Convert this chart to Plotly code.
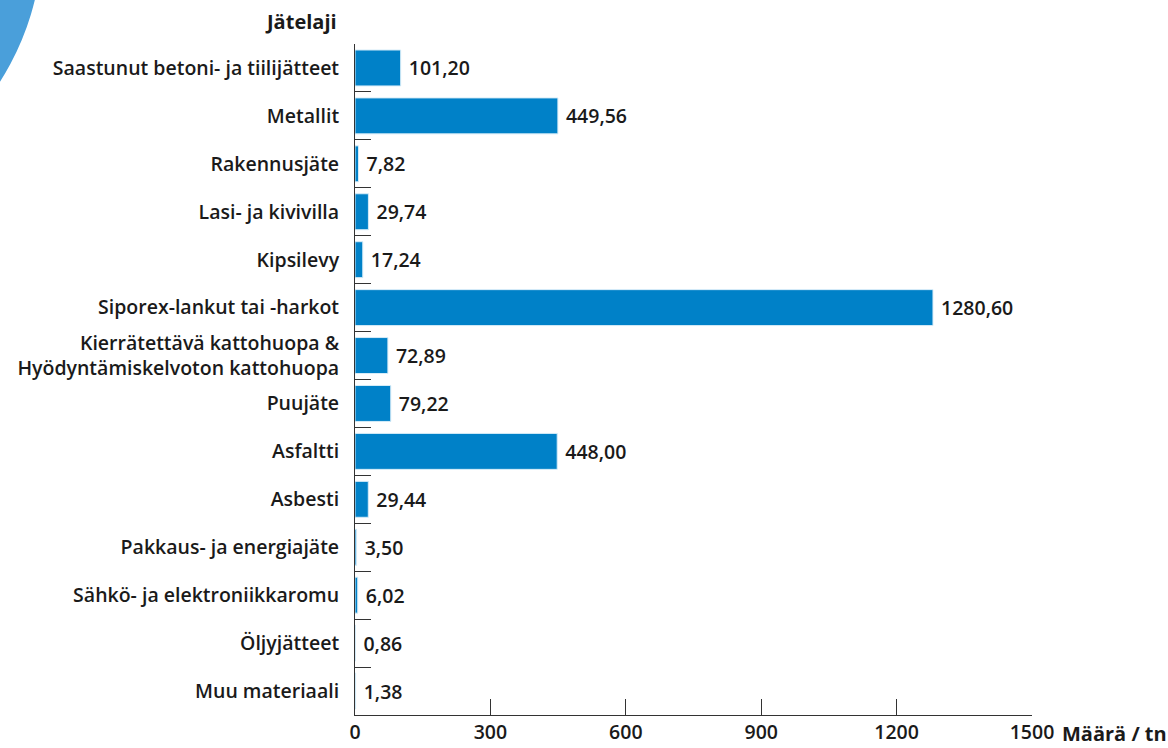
import plotly.graph_objects as go

categories = [
    "Saastunut betoni- ja tiilijätteet",
    "Metallit",
    "Rakennusjäte",
    "Lasi- ja kivivilla",
    "Kipsilevy",
    "Siporex-lankut tai -harkot",
    "Kierrätettävä kattohuopa &<br>Hyödyntämiskelvoton kattohuopa",
    "Puujäte",
    "Asfaltti",
    "Asbesti",
    "Pakkaus- ja energiajäte",
    "Sähkö- ja elektroniikkaromu",
    "Öljyjätteet",
    "Muu materiaali",
]
values = [101.20, 449.56, 7.82, 29.74, 17.24, 1280.60, 72.89, 79.22, 448.00, 29.44, 3.50, 6.02, 0.86, 1.38]
x_ticks = [0, 300, 600, 900, 1200, 1500]

labels = [" " + f"{v:.2f}".replace(".", ",") for v in values]

W, H = 1168, 748
L, R, T, B = 355, 136, 44, 33

FONT = "Open Sans"
DARK = "#1a1a1a"
FS = 19.5

fig = go.Figure(go.Bar(
    x=values, y=categories, orientation="h",
    marker=dict(color="#0081C8", line=dict(color="#d6ecf8", width=1)),
    text=labels, textposition="outside", cliponaxis=False,
    textfont=dict(family=FONT, size=FS, color=DARK, weight=600),
))

# decorative circle top-left (pixel -> paper coords)
pw, ph = W - L - R, H - T - B
def px(x):
    return (x - L) / pw
def py(y):
    return 1 - (y - T) / ph
cx, cy, rad = -228.5, -64, 271
fig.add_shape(type="circle", xref="paper", yref="paper",
              x0=px(cx - rad), x1=px(cx + rad), y0=py(cy + rad), y1=py(cy - rad),
              fillcolor="#4A9FDA", line=dict(width=0), layer="below")

fig.update_layout(
    width=W, height=H,
    margin=dict(l=L, r=R, t=T, b=B, autoexpand=False),
    plot_bgcolor="white", paper_bgcolor="white",
    bargap=0.25, showlegend=False,
    font=dict(family=FONT, size=FS, color=DARK, weight=600),
    xaxis=dict(range=[0, 1500], tickvals=x_ticks, ticktext=[str(t) for t in x_ticks],
               ticks="inside", ticklen=16, tickcolor="#333", tickwidth=1,
               showline=True, linecolor="#333", linewidth=1, showgrid=False, zeroline=False,
               ticklabelstandoff=0, automargin=False,
               tickfont=dict(family=FONT, size=FS, color=DARK, weight=600)),
    yaxis=dict(autorange="reversed", categoryorder="array", categoryarray=categories,
               ticks="inside", tickson="boundaries", ticklen=16, tickcolor="#333",
               showline=True, linecolor="#333", linewidth=1, showgrid=False,
               ticklabelstandoff=11, automargin=False,
               tickfont=dict(family=FONT, size=FS, color=DARK, weight=600)),
    annotations=[
        dict(text="Jätelaji", xref="paper", yref="paper", x=px(339), y=py(22),
             xanchor="right", yanchor="middle", showarrow=False,
             font=dict(family=FONT, size=20, color=DARK, weight=700)),
        dict(text="Määrä / tn", xref="paper", yref="paper", x=px(1060), y=py(733),
             xanchor="left", yanchor="middle", showarrow=False,
             font=dict(family=FONT, size=20, color=DARK, weight=700)),
    ],
)

fig.write_html("out.html")
